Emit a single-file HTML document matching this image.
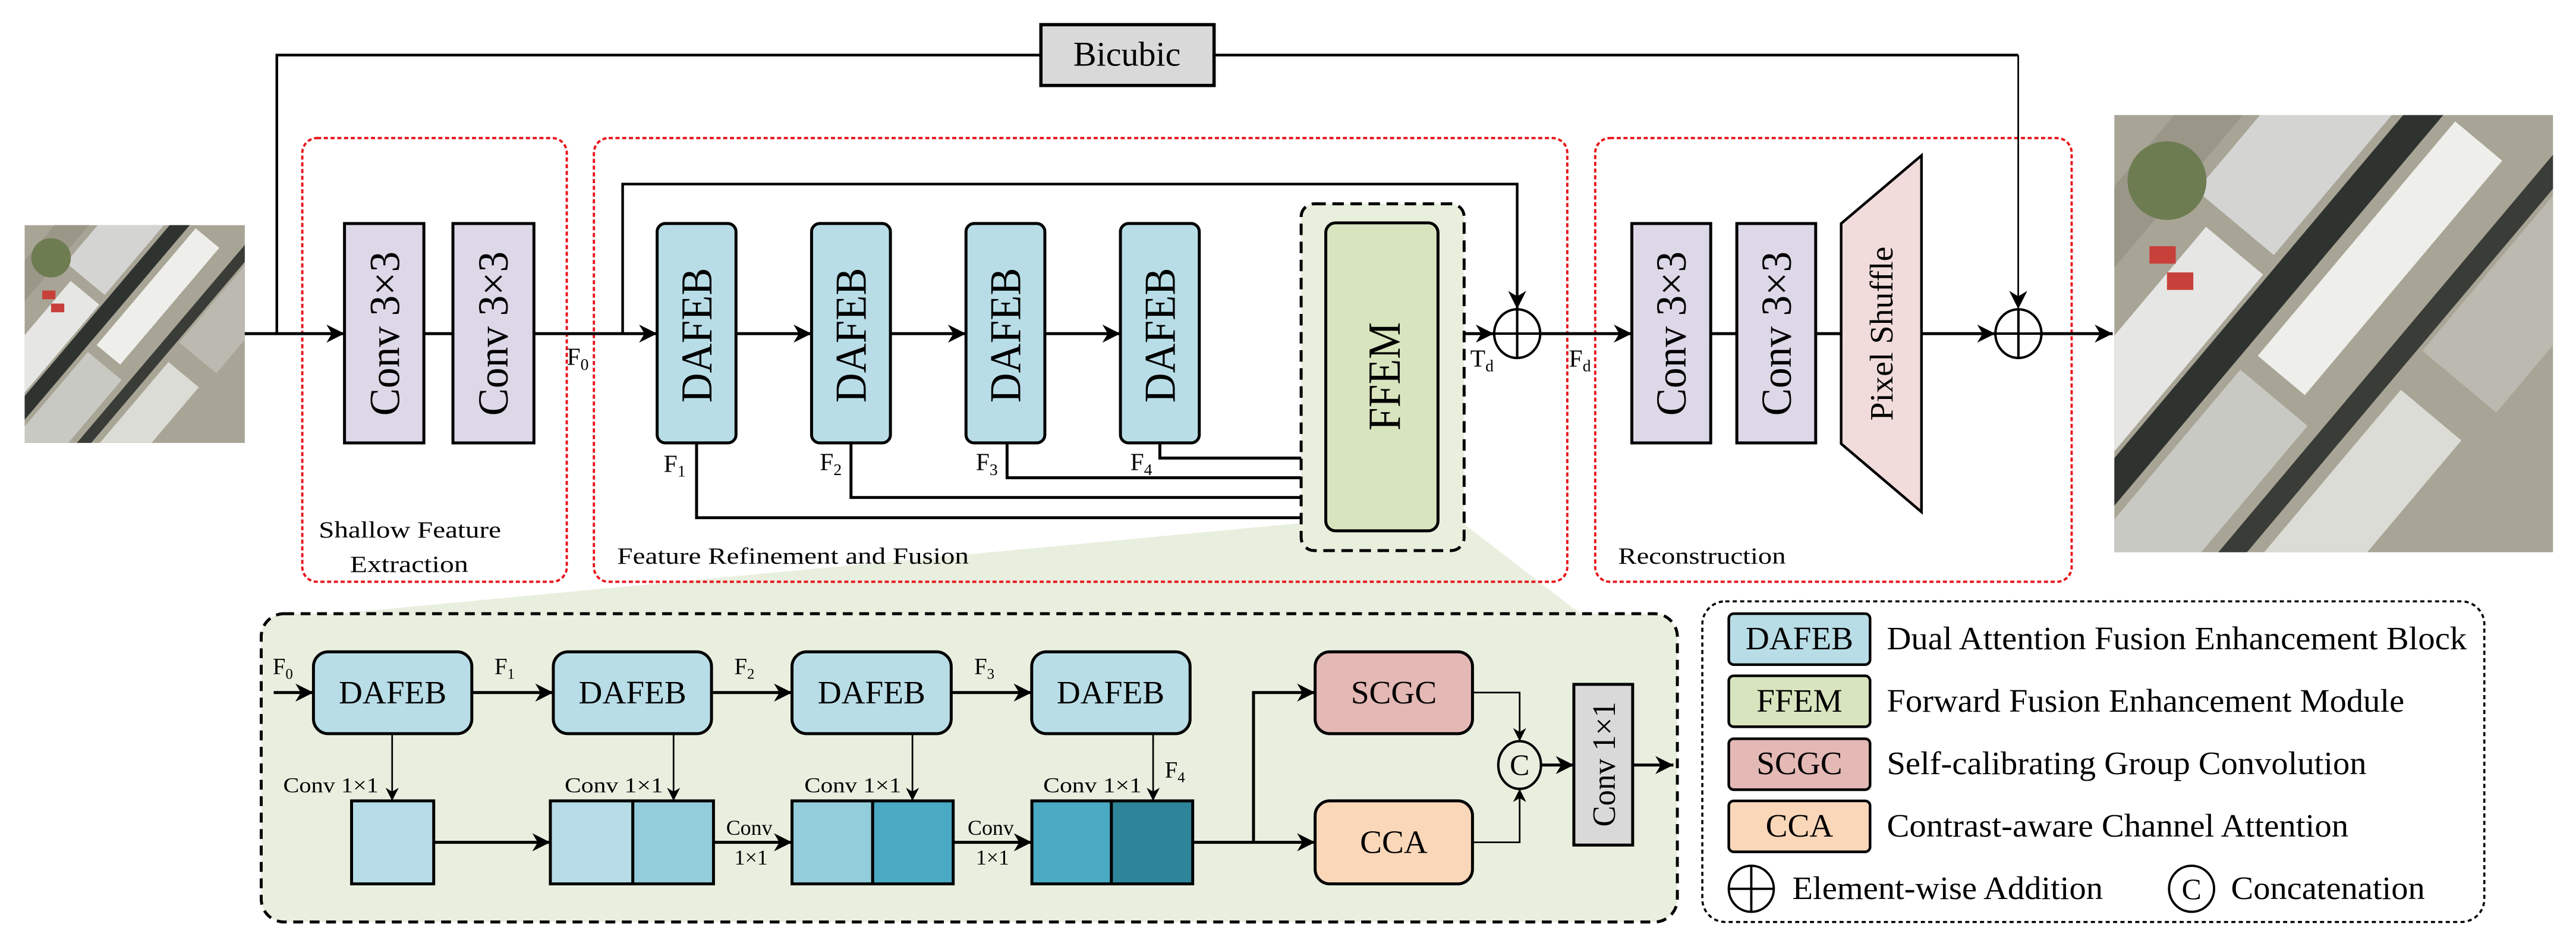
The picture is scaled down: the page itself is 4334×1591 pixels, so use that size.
<!DOCTYPE html>
<html><head><meta charset="utf-8"><style>
html,body{margin:0;padding:0;background:#fff}
svg{display:block}
text{font-family:"Liberation Serif","Times New Roman",serif;fill:#000}
</style></head><body>
<svg width="4334" height="1591" viewBox="0 0 1568 575.6" xmlns="http://www.w3.org/2000/svg" font-family="Liberation Serif, Times New Roman, serif">
<defs>
<marker id="a" viewBox="0 0 10 10" refX="10" refY="5" markerWidth="8" markerHeight="8" orient="auto" markerUnits="userSpaceOnUse"><path d="M0,0 L10,5 L0,10 L3,5 z" fill="#000"/></marker>
<marker id="b" viewBox="0 0 10 10" refX="10" refY="5" markerWidth="11" markerHeight="11" orient="auto" markerUnits="userSpaceOnUse"><path d="M0,0 L10,5 L0,10 L3,5 z" fill="#000"/></marker>
<clipPath id="c1"><rect x="0" y="0" width="100" height="100"/></clipPath>
<g id="aer">
 <rect x="0" y="0" width="100" height="100" fill="#a8a596"/>
 <g clip-path="url(#c1)">
 <g transform="rotate(-50 50 50)">
  <rect x="-40" y="30" width="180" height="7" fill="#2f3330"/>
  <rect x="-40" y="12" width="90" height="17" fill="#e6e6e4"/>
  <rect x="55" y="5" width="80" height="23" fill="#d4d5d3"/>
  <rect x="-40" y="39" width="70" height="20" fill="#c9c9c4"/>
  <rect x="35" y="40" width="70" height="14" fill="#eeeeea"/>
  <rect x="-40" y="62" width="180" height="5" fill="#3a3c38"/>
  <rect x="-30" y="70" width="80" height="18" fill="#dcdcd6"/>
  <rect x="60" y="68" width="60" height="22" fill="#bbb9b0"/>
  <rect x="-40" y="-10" width="180" height="12" fill="#9a9788"/>
 </g>
 <circle cx="12" cy="15" r="9" fill="#6e7c52"/>
 <rect x="8" y="30" width="6" height="4" fill="#c8403a"/>
 <rect x="12" y="36" width="6" height="4" fill="#c8403a"/>
 </g>
</g>
</defs>

<use href="#aer" transform="translate(15,137) scale(1.34,1.325)"/>
<use href="#aer" transform="translate(1287,70) scale(2.67,2.66)"/>

<polygon points="795,318 890,318 962,373.4 205,373.4" fill="#e9efdf"/>

<g fill="none" stroke="#e8141b" stroke-width="1.4" stroke-dasharray="2.5,1.6">
 <rect x="184" y="84" width="161" height="270" rx="9"/>
 <rect x="361.5" y="84" width="592.5" height="270" rx="9"/>
 <rect x="971" y="84" width="290" height="270" rx="9"/>
</g>

<polyline points="168.5,203 168.5,33.5 633.6,33.5" fill="none" stroke="#000" stroke-width="1.6"/>
<line x1="739" y1="33.5" x2="1228.5" y2="33.5" stroke="#000" stroke-width="1.6"/>
<line x1="1228.5" y1="33.5" x2="1228.5" y2="188" stroke="#000" stroke-width="1" marker-end="url(#b)"/>
<rect x="633.6" y="15" width="105.4" height="37" fill="#d9d9d9" stroke="#000" stroke-width="2"/>
<text x="686" y="40" font-size="21" text-anchor="middle">Bicubic</text>

<g stroke="#000" stroke-width="1.8" fill="none">
 <line x1="149" y1="203" x2="209.7" y2="203" marker-end="url(#b)"/>
 <line x1="258" y1="203" x2="275.7" y2="203"/>
 <line x1="325" y1="203" x2="400" y2="203" marker-end="url(#b)"/>
 <line x1="448" y1="203" x2="494" y2="203" marker-end="url(#b)"/>
 <line x1="542" y1="203" x2="588" y2="203" marker-end="url(#b)"/>
 <line x1="636" y1="203" x2="682" y2="203" marker-end="url(#b)"/>
 <polyline points="379,203 379,112 923.5,112 923.5,188" stroke-width="1.6" marker-end="url(#b)"/>
 <line x1="875.3" y1="203" x2="909.3" y2="203" marker-end="url(#b)"/>
 <line x1="937.6" y1="203" x2="993.3" y2="203" marker-end="url(#b)"/>
 <line x1="1041.3" y1="203" x2="1057.2" y2="203"/>
 <line x1="1105.2" y1="203" x2="1120.7" y2="203"/>
 <line x1="1169.6" y1="203" x2="1214.5" y2="203" marker-end="url(#b)"/>
 <line x1="1243" y1="203" x2="1286" y2="203" marker-end="url(#b)"/>
 <polyline points="424,269.5 424,315 807,315" marker-end="url(#b)"/>
 <polyline points="518,269.5 518,302.7 807,302.7" marker-end="url(#b)"/>
 <polyline points="613,269.5 613,290.7 807,290.7" marker-end="url(#b)"/>
 <polyline points="706,269.5 706,278.7 807,278.7" marker-end="url(#b)"/>
</g>

<g fill="#ddd8e8" stroke="#000" stroke-width="1.8">
 <rect x="209.7" y="136" width="48.3" height="133.5"/>
 <rect x="275.7" y="136" width="49.3" height="133.5"/>
 <rect x="993.3" y="136" width="48" height="133.5"/>
 <rect x="1057.2" y="136" width="48" height="133.5"/>
</g>
<g font-size="26">
 <text transform="translate(243,253) rotate(-90)" textLength="100" lengthAdjust="spacingAndGlyphs">Conv 3×3</text>
 <text transform="translate(309,253) rotate(-90)" textLength="100" lengthAdjust="spacingAndGlyphs">Conv 3×3</text>
 <text transform="translate(1026,253) rotate(-90)" textLength="100" lengthAdjust="spacingAndGlyphs">Conv 3×3</text>
 <text transform="translate(1090,253) rotate(-90)" textLength="100" lengthAdjust="spacingAndGlyphs">Conv 3×3</text>
</g>
<polygon points="1120.7,136 1169.6,94.6 1169.6,311.5 1120.7,270" fill="#f1dcdb" stroke="#000" stroke-width="1.6"/>
<text transform="translate(1152,256) rotate(-90)" font-size="20" textLength="106" lengthAdjust="spacingAndGlyphs">Pixel Shuffle</text>

<g fill="#b8dde7" stroke="#000" stroke-width="1.8">
 <rect x="400" y="136" width="48" height="133.5" rx="5"/>
 <rect x="494" y="136" width="48" height="133.5" rx="5"/>
 <rect x="588" y="136" width="48" height="133.5" rx="5"/>
 <rect x="682" y="136" width="48" height="133.5" rx="5"/>
</g>
<g font-size="27">
 <text transform="translate(433,245) rotate(-90)" textLength="82" lengthAdjust="spacingAndGlyphs">DAFEB</text>
 <text transform="translate(527,245) rotate(-90)" textLength="82" lengthAdjust="spacingAndGlyphs">DAFEB</text>
 <text transform="translate(621,245) rotate(-90)" textLength="82" lengthAdjust="spacingAndGlyphs">DAFEB</text>
 <text transform="translate(715,245) rotate(-90)" textLength="82" lengthAdjust="spacingAndGlyphs">DAFEB</text>
</g>

<rect x="792" y="124" width="99.2" height="211" rx="8" fill="#e9efdd" stroke="#000" stroke-width="1.8" stroke-dasharray="7,4"/>
<rect x="807" y="135.6" width="68.3" height="187.4" rx="6" fill="#d7e4bd" stroke="#000" stroke-width="1.8"/>
<text transform="translate(852,262) rotate(-90)" font-size="28" textLength="66" lengthAdjust="spacingAndGlyphs">FFEM</text>

<g fill="none" stroke="#000" stroke-width="1.5">
 <ellipse cx="923.5" cy="203" rx="14" ry="14.8"/>
 <line x1="909.5" y1="203" x2="937.5" y2="203"/><line x1="923.5" y1="188.2" x2="923.5" y2="217.8"/>
 <ellipse cx="1228.6" cy="203" rx="14" ry="14.8"/>
 <line x1="1214.6" y1="203" x2="1242.6" y2="203"/><line x1="1228.6" y1="188.2" x2="1228.6" y2="217.8"/>
</g>

<g font-size="15">
 <text x="345" y="222">F<tspan font-size="10" dy="3">0</tspan></text>
 <text x="404" y="287">F<tspan font-size="10" dy="3">1</tspan></text>
 <text x="499" y="286">F<tspan font-size="10" dy="3">2</tspan></text>
 <text x="594" y="286">F<tspan font-size="10" dy="3">3</tspan></text>
 <text x="688" y="286">F<tspan font-size="10" dy="3">4</tspan></text>
 <text x="895" y="223">T<tspan font-size="10" dy="3">d</tspan></text>
 <text x="955" y="223">F<tspan font-size="10" dy="3">d</tspan></text>
</g>
<g font-size="14">
 <text x="194" y="327" textLength="111" lengthAdjust="spacingAndGlyphs">Shallow Feature</text>
 <text x="213" y="348" textLength="72" lengthAdjust="spacingAndGlyphs">Extraction</text>
 <text x="375.7" y="343" textLength="214" lengthAdjust="spacingAndGlyphs">Feature Refinement and Fusion</text>
 <text x="985" y="343" textLength="102" lengthAdjust="spacingAndGlyphs">Reconstruction</text>
</g>

<rect x="159" y="373.4" width="862" height="187.6" rx="14" fill="#e9efdf" stroke="#000" stroke-width="1.8" stroke-dasharray="6,4"/>
<g stroke="#000" stroke-width="1.8" fill="none">
 <line x1="166.6" y1="421.4" x2="190.8" y2="421.4" marker-end="url(#b)"/>
 <line x1="287.2" y1="421.4" x2="336.8" y2="421.4" marker-end="url(#b)"/>
 <line x1="433.1" y1="421.4" x2="482.1" y2="421.4" marker-end="url(#b)"/>
 <line x1="579" y1="421.4" x2="628" y2="421.4" marker-end="url(#b)"/>
 <line x1="264" y1="512.5" x2="335" y2="512.5" marker-end="url(#b)"/>
 <line x1="434.3" y1="512.5" x2="482.1" y2="512.5" marker-end="url(#b)"/>
 <line x1="580.2" y1="512.5" x2="628.1" y2="512.5" marker-end="url(#b)"/>
 <line x1="726" y1="512.5" x2="800.5" y2="512.5" marker-end="url(#b)"/>
 <polyline points="763,512.5 763,421.4 800.5,421.4" marker-end="url(#b)"/>
 <line x1="938" y1="465.5" x2="958" y2="465.5" marker-end="url(#b)"/>
 <line x1="993.8" y1="465.5" x2="1018.6" y2="465.5" marker-end="url(#b)"/>
</g>
<g stroke="#000" stroke-width="1" fill="none">
 <line x1="238.7" y1="446.4" x2="238.7" y2="487.3" marker-end="url(#a)"/>
 <line x1="410" y1="446.4" x2="410" y2="487.3" marker-end="url(#a)"/>
 <line x1="555.4" y1="446.4" x2="555.4" y2="487.3" marker-end="url(#a)"/>
 <line x1="701.9" y1="446.4" x2="701.9" y2="487.3" marker-end="url(#a)"/>
 <polyline points="896.3,421.4 925,421.4 925,451" marker-end="url(#a)"/>
 <polyline points="896.3,512.5 925,512.5 925,480" marker-end="url(#a)"/>
</g>
<g stroke="#000" stroke-width="1.8">
 <rect x="190.8" y="396.6" width="96.4" height="49.8" rx="9" fill="#b8dde7"/>
 <rect x="336.8" y="396.6" width="96.3" height="49.8" rx="9" fill="#b8dde7"/>
 <rect x="482.1" y="396.6" width="96.9" height="49.8" rx="9" fill="#b8dde7"/>
 <rect x="628" y="396.6" width="96.4" height="49.8" rx="9" fill="#b8dde7"/>
 <rect x="800.5" y="396.6" width="95.8" height="49.8" rx="9" fill="#e4b8b5"/>
 <rect x="800.5" y="487.3" width="95.8" height="50.5" rx="9" fill="#fad7b9"/>
 <rect x="214" y="487.3" width="50" height="50.5" fill="#b6dde7"/>
 <rect x="335" y="487.3" width="50.2" height="50.5" fill="#b6dde7"/>
 <rect x="385.2" y="487.3" width="49.1" height="50.5" fill="#93cddb"/>
 <rect x="482.1" y="487.3" width="49.1" height="50.5" fill="#93cddb"/>
 <rect x="531.2" y="487.3" width="49" height="50.5" fill="#4aaac4"/>
 <rect x="628.1" y="487.3" width="48.4" height="50.5" fill="#4aaac4"/>
 <rect x="676.5" y="487.3" width="49.5" height="50.5" fill="#2e8599"/>
 <rect x="958" y="416.4" width="35.8" height="97.8" fill="#d9d9d9"/>
</g>
<ellipse cx="925" cy="465.5" rx="13" ry="14.5" fill="none" stroke="#000" stroke-width="1.5"/>
<text x="925" y="471.5" font-size="18" text-anchor="middle">C</text>
<text transform="translate(983,503) rotate(-90)" font-size="20" textLength="76" lengthAdjust="spacingAndGlyphs">Conv 1×1</text>
<g font-size="20" text-anchor="middle">
 <text x="239" y="428">DAFEB</text>
 <text x="385" y="428">DAFEB</text>
 <text x="530.5" y="428">DAFEB</text>
 <text x="676" y="428">DAFEB</text>
 <text x="848.4" y="428">SCGC</text>
 <text x="848.4" y="519">CCA</text>
</g>
<g font-size="14">
 <text x="166" y="410">F<tspan font-size="9" dy="3">0</tspan></text>
 <text x="301" y="410">F<tspan font-size="9" dy="3">1</tspan></text>
 <text x="447" y="410">F<tspan font-size="9" dy="3">2</tspan></text>
 <text x="593" y="410">F<tspan font-size="9" dy="3">3</tspan></text>
 <text x="709" y="473">F<tspan font-size="9" dy="3">4</tspan></text>
</g>
<g font-size="13">
 <text x="172.4" y="482" textLength="58" lengthAdjust="spacingAndGlyphs">Conv 1×1</text>
 <text x="343.7" y="482" textLength="60" lengthAdjust="spacingAndGlyphs">Conv 1×1</text>
 <text x="489.6" y="482" textLength="59" lengthAdjust="spacingAndGlyphs">Conv 1×1</text>
 <text x="635" y="482" textLength="60" lengthAdjust="spacingAndGlyphs">Conv 1×1</text>
 <text x="442" y="508">Conv</text><text x="447" y="526">1×1</text>
 <text x="589" y="508">Conv</text><text x="594" y="526">1×1</text>
</g>

<rect x="1036.2" y="365.9" width="476" height="195.1" rx="14" fill="#fff" stroke="#000" stroke-width="1.3" stroke-dasharray="2.5,2"/>
<g stroke="#000" stroke-width="1.6">
 <rect x="1052.3" y="373.4" width="86" height="31" rx="3" fill="#b8dde7"/>
 <rect x="1052.3" y="411.2" width="86" height="31" rx="3" fill="#d7e4bd"/>
 <rect x="1052.3" y="449.5" width="86" height="31" rx="3" fill="#e4b8b5"/>
 <rect x="1052.3" y="487.3" width="86" height="31" rx="3" fill="#fad7b9"/>
</g>
<g font-size="20" text-anchor="middle">
 <text x="1095.3" y="395">DAFEB</text>
 <text x="1095.3" y="433">FFEM</text>
 <text x="1095.3" y="471">SCGC</text>
 <text x="1095.3" y="509">CCA</text>
</g>
<g font-size="20">
 <text x="1148.5" y="395" textLength="353" lengthAdjust="spacingAndGlyphs">Dual Attention Fusion Enhancement Block</text>
 <text x="1148.5" y="433" textLength="315" lengthAdjust="spacingAndGlyphs">Forward Fusion Enhancement Module</text>
 <text x="1148.5" y="471" textLength="292" lengthAdjust="spacingAndGlyphs">Self-calibrating Group Convolution</text>
 <text x="1148.5" y="509" textLength="281" lengthAdjust="spacingAndGlyphs">Contrast-aware Channel Attention</text>
 <text x="1091" y="547" textLength="189" lengthAdjust="spacingAndGlyphs">Element-wise Addition</text>
 <text x="1358" y="547" textLength="118" lengthAdjust="spacingAndGlyphs">Concatenation</text>
</g>
<g fill="none" stroke="#000" stroke-width="1.4">
 <ellipse cx="1066" cy="540.8" rx="13.7" ry="14"/>
 <line x1="1052.3" y1="540.8" x2="1079.7" y2="540.8"/><line x1="1066" y1="526.8" x2="1066" y2="554.8"/>
 <ellipse cx="1334" cy="540.8" rx="13.7" ry="14"/>
</g>
<text x="1334" y="547" font-size="18" text-anchor="middle">C</text>
</svg>
</body></html>
